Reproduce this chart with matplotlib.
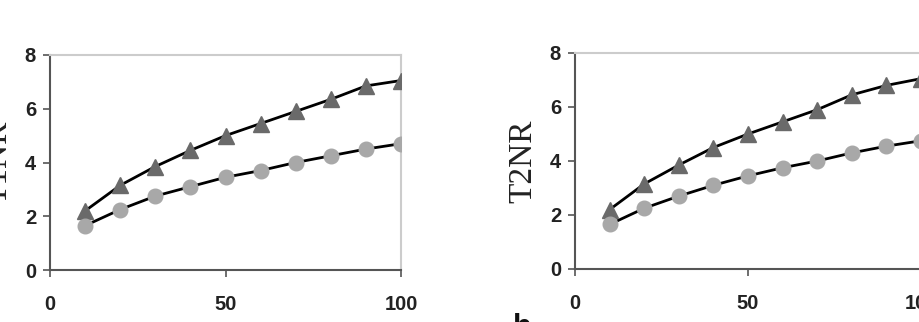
import matplotlib
matplotlib.use("Agg")
import matplotlib.pyplot as plt

x = [10, 20, 30, 40, 50, 60, 70, 80, 90, 100]
t1_tri = [2.2, 3.15, 3.85, 4.45, 5.0, 5.45, 5.9, 6.35, 6.85, 7.05]
t1_circ = [1.65, 2.25, 2.75, 3.1, 3.45, 3.7, 4.0, 4.25, 4.5, 4.7]
t2_tri = [2.2, 3.15, 3.85, 4.5, 5.0, 5.45, 5.9, 6.45, 6.8, 7.05]
t2_circ = [1.65, 2.25, 2.7, 3.1, 3.45, 3.75, 4.0, 4.3, 4.55, 4.75]
xticks = [0, 50, 100]
yticks = [0, 2, 4, 6, 8]
ylabels = ["T1NR", "T2NR"]

W, H = 919, 322
fig = plt.figure(figsize=(W / 100, H / 100), dpi=100)

def make_ax(x0, x1, y0, y1):
    return fig.add_axes([x0 / W, 1 - y1 / H, (x1 - x0) / W, (y1 - y0) / H])

panels = [
    (make_ax(50, 401, 55, 270), t1_tri, t1_circ, ylabels[0]),
    (make_ax(575, 921, 53, 269), t2_tri, t2_circ, ylabels[1]),
]

for ax, tri, circ, lab in panels:
    ax.plot(x, tri, color="black", lw=2.0, zorder=2)
    ax.plot(x, tri, ls="none", marker="^", ms=11.5, color="#6a6a6a", mec="#6a6a6a", zorder=3)
    ax.plot(x, circ, color="black", lw=2.0, zorder=2)
    ax.plot(x, circ, ls="none", marker="o", ms=10.5, color="#a8a8a8", mec="#a8a8a8", zorder=3)
    ax.set_xlim(0, 100)
    ax.set_ylim(0, 8)
    ax.set_xticks(xticks)
    ax.set_yticks(yticks)
    for s in ["left", "bottom"]:
        ax.spines[s].set_color("#555555")
        ax.spines[s].set_linewidth(1.5)
    for s in ["top", "right"]:
        ax.spines[s].set_color("#cccccc")
        ax.spines[s].set_linewidth(1.5)
    ax.tick_params(axis="y", direction="out", length=5, width=1.2, color="#555555",
                   pad=5, labelsize=14.5, labelcolor="#222222")
    ax.tick_params(axis="x", direction="out", length=5, width=1.2, color="#555555",
                   pad=13, labelsize=14.5, labelcolor="#222222")
    for t in ax.get_xticklabels() + ax.get_yticklabels():
        t.set_fontweight("bold")
        t.set_family("Liberation Sans")
    ax.set_ylabel(lab, family="Liberation Serif", fontsize=24, color="#222222", labelpad=8)

fig.text(-2 / W, 1 - 346 / H, "a", family="Liberation Sans", fontweight="bold", fontsize=22,
         color="#444444", ha="left", va="bottom")
fig.text(513 / W, 1 - 343 / H, "b", family="Liberation Sans", fontweight="bold", fontsize=22,
         color="#111111", ha="left", va="bottom")

fig.savefig("out.png", dpi=100)
